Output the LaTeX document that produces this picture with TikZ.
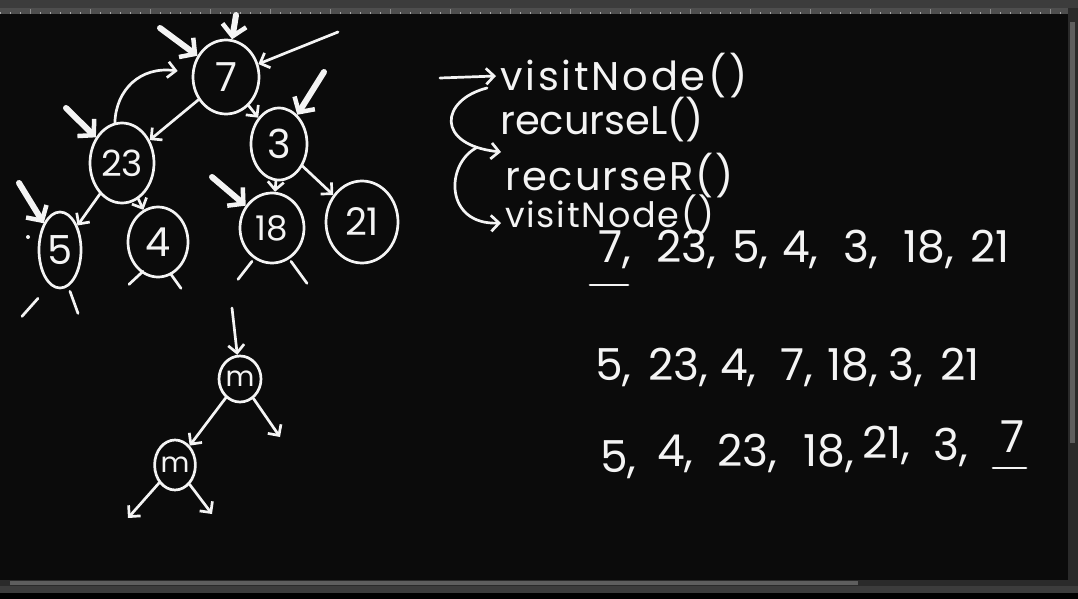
\documentclass[tikz,border=0pt]{standalone}
\usepackage{fontspec}
\usepackage{xcolor}
\usetikzlibrary{shapes.geometric,arrows.meta}
\newfontfamily\handfont{Poppins}
\definecolor{boardblack}{HTML}{0B0B0B}
\definecolor{chalkwhite}{HTML}{F4F4F4}
\definecolor{uigray}{HTML}{3C3C3C}
\definecolor{uiruler}{HTML}{4E4E4E}
\definecolor{uithumb}{HTML}{5E5E5E}
\definecolor{uidark}{HTML}{2A2A2A}

\begin{document}
\begin{tikzpicture}[x=1pt,y=-1pt,
  >={Straight Barb[length=8pt,width=16pt]},
  chalk/.style={draw=chalkwhite,line width=2.7pt,line cap=round,line join=round},
  bubble/.style={ellipse,chalk,inner sep=0pt,text=chalkwhite,font=\handfont\fontsize{40}{40}\selectfont},
  visit/.style={draw=chalkwhite,line width=6pt,line cap=round,-{Straight Barb[length=11pt,width=24pt,line width=4.5pt]}},
  code/.style={anchor=west,inner sep=0pt,text=chalkwhite,font=\handfont\fontsize{40}{40}\selectfont},
  num/.style={anchor=base west,inner sep=0pt,text=chalkwhite,font=\handfont\fontsize{44}{44}\selectfont}]
\useasboundingbox (0,0) rectangle (1078,599);
% board and window chrome
\fill[boardblack] (0,0) rectangle (1078,599);
\fill[uigray] (0,0) rectangle (1078,8);
\fill[uiruler] (0,8) rectangle (1068,14);
\foreach \t in {0,10,...,1060} \draw[gray!70,line width=0.6pt] (\t,14) -- (\t,12);
\foreach \t in {30,90,...,1050} \draw[gray!90,line width=0.8pt] (\t,14) -- (\t,9);
\fill[uidark] (1068,8) rectangle (1078,582);
\fill[uithumb] (1070,22) rectangle (1075,443);
\fill[uidark] (0,580) rectangle (1078,586);
\fill[uithumb] (10,581) rectangle (858,585);
\fill[uigray] (0,586) rectangle (1078,593);
\fill[black] (0,593) rectangle (1078,599);

% the tree
\node[bubble,minimum width=66pt,minimum height=74pt] (n7) at (226,77) {7};
\node[bubble,minimum width=64pt,minimum height=80pt,font=\handfont\fontsize{36}{36}\selectfont] (n23) at (122,163) {23};
\node[bubble,minimum width=56pt,minimum height=72pt] (n3) at (279,144) {3};
\node[bubble,minimum width=42pt,minimum height=76pt] (n5) at (60,250) {5};
\node[bubble,minimum width=60pt,minimum height=70pt] (n4) at (158,242) {4};
\node[bubble,minimum width=64pt,minimum height=70pt,font=\handfont\fontsize{34}{34}\selectfont] (n18) at (272,228) {18};
\node[bubble,minimum width=72pt,minimum height=82pt,font=\handfont\fontsize{38}{38}\selectfont] (n21) at (362,222) {21};

\draw[chalk,->] (n7) -- (n23);
\draw[chalk,->] (n7) -- (n3);
\draw[chalk,->] (n23) -- (n5);
\draw[chalk,->] (n23) -- (n4);
\draw[chalk,->] (n3) -- (n18);
\draw[chalk,->] (n3) -- (n21);
\draw[chalk,->] (n23.100) .. controls (116,90) and (140,66) .. ([shift={(-14pt,6pt)}]n7.west);

% empty children
\draw[chalk] ([shift={(-22pt,-9pt)}]n5.south) -- ++(-16,18);
\draw[chalk] ([shift={(10pt,-2pt)}]n5.south) -- ++(8,22);
\draw[chalk] ([shift={(-15pt,7pt)}]n4.south) -- ++(-14,13);
\draw[chalk] ([shift={(13pt,4pt)}]n4.south) -- ++(10,14);
\draw[chalk] ([shift={(-20pt,3pt)}]n18.south) -- ++(-14,18);
\draw[chalk] ([shift={(19pt,3pt)}]n18.south) -- ++(16,22);

% visits
\coordinate (t7a) at (160,28);
\coordinate (t7b) at (236,15);
\coordinate (t7c) at (338,32);
\coordinate (t3) at (324,72);
\coordinate (t23) at (66,108);
\coordinate (t5) at (19,183);
\coordinate (t18) at (212,177);
\draw[visit] (t7a) -- (n7);
\draw[visit] (t7b) -- (n7);
\draw[chalk,->] (t7c) -- (n7);
\draw[visit] (t3) -- (n3);
\draw[visit] (t23) -- (n23);
\draw[visit] (t5) -- (n5);
\draw[visit] (t18) -- (n18);
\fill[chalkwhite] (28,237) circle (2pt);

% small tree
\node[bubble,minimum width=42pt,minimum height=46pt,font=\handfont\fontsize{28}{28}\selectfont] (nm1) at (240,379) {m};
\node[bubble,minimum width=40pt,minimum height=50pt,font=\handfont\fontsize{28}{28}\selectfont] (nm2) at (175,465) {m};
\coordinate (mtop) at (232,308);
\coordinate (mR) at (280,437);
\coordinate (mLL) at (128,518);
\coordinate (mLR) at (212,514);
\draw[chalk,->] (mtop) -- (nm1);
\draw[chalk,->] (nm1) -- (nm2);
\draw[chalk,->] (nm1) -- (mR);
\draw[chalk,->] (nm2) -- (mLL);
\draw[chalk,->] (nm2) -- (mLR);

% the calls
\node[code,font=\handfont\fontsize{40}{40}\selectfont\addfontfeature{LetterSpace=7}] (visitA) at (500,76) {visitNode()};
\node[code] (recL) at (500,120) {recurseL()};
\node[code,font=\handfont\fontsize{40}{40}\selectfont\addfontfeature{LetterSpace=5}] (recR) at (505,176) {recurseR()};
\node[code,font=\handfont\fontsize{35}{35}\selectfont\addfontfeature{LetterSpace=5}] (visitB) at (505,214) {visitNode()};
\coordinate (cin) at (440,78);
\draw[chalk,->] (cin) -- ([xshift=-4pt]visitA.west);
\draw[chalk,->] ([shift={(-13pt,-12pt)}]visitA.west) .. controls (440,100) and (435,145) .. ([shift={(-4pt,24pt)}]recR.west);
\draw[chalk,->] ([shift={(-24pt,-28pt)}]recL.west) .. controls (445,165) and (445,225) .. ([shift={(-4pt,-9pt)}]visitB.west);

% the orders
\foreach \x/\y/\t [count=\i] in {598/262/{7,},656/262/{23,},732/262/{5,},782/262/{4,},843/262/{3,},903/262/{18,},970/262/{21}}
  \node[num] (ra\i) at (\x,\y) {\t};
\foreach \x/\y/\t [count=\i] in {595/380/{5,},648/380/{23,},720/380/{4,},780/380/{7,},827/380/{18,},888/380/{3,},940/380/{21}}
  \node[num] (rb\i) at (\x,\y) {\t};
\foreach \x/\y/\t [count=\i] in {600/472/{5,},657/466/{4,},717/466/{23,},803/466/{18,},862/458/{21,},933/460/{3,},1000/452/{7}}
  \node[num] (rc\i) at (\x,\y) {\t};
\draw[chalk] ([shift={(-8pt,-23pt)}]ra1.base west) -- ++(38,0);
\draw[chalk] ([shift={(-7pt,-16pt)}]rc7.base west) -- ++(33,0);
\end{tikzpicture}
\end{document}
